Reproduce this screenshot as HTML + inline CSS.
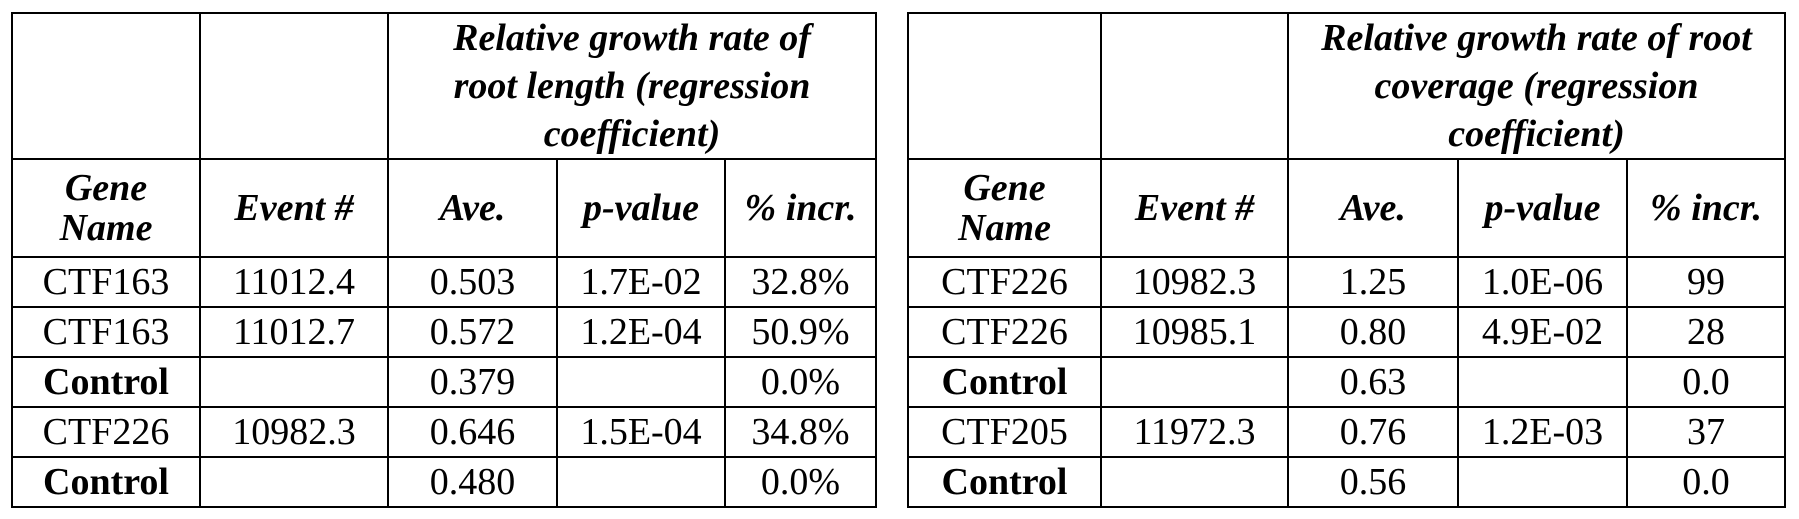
<!DOCTYPE html>
<html><head><style>
body{margin:0;width:1799px;height:519px;background:#fff;overflow:hidden;position:relative;font-family:"Liberation Serif",serif;color:#000}
table{position:absolute;top:12px;border-collapse:collapse;table-layout:fixed}
td{border:2.5px solid #000;text-align:center;padding:0;font-size:38px;line-height:40px;white-space:nowrap;overflow:hidden}
.h{font-weight:bold;font-style:italic;line-height:48px}
.b{font-weight:bold}
tr.r td{height:48px}
</style></head><body>
<table style="left:11px;width:864px">
<colgroup><col style="width:188px"><col style="width:188px"><col style="width:169px"><col style="width:168px"><col style="width:151px"></colgroup>
<tr><td style="height:142px"></td><td></td><td colspan="3" class="h">Relative growth rate of<br>root length (regression<br>coefficient)</td></tr>
<tr><td class="h" style="height:96px;line-height:40px">Gene<br>Name</td><td class="h">Event #</td><td class="h">Ave.</td><td class="h">p-value</td><td class="h">% incr.</td></tr>
<tr class="r"><td>CTF163</td><td>11012.4</td><td>0.503</td><td>1.7E-02</td><td>32.8%</td></tr>
<tr class="r"><td>CTF163</td><td>11012.7</td><td>0.572</td><td>1.2E-04</td><td>50.9%</td></tr>
<tr class="r"><td class="b">Control</td><td></td><td>0.379</td><td></td><td>0.0%</td></tr>
<tr class="r"><td>CTF226</td><td>10982.3</td><td>0.646</td><td>1.5E-04</td><td>34.8%</td></tr>
<tr class="r"><td class="b">Control</td><td></td><td>0.480</td><td></td><td>0.0%</td></tr>
</table>
<table style="left:907px;width:877px">
<colgroup><col style="width:193px"><col style="width:187px"><col style="width:170px"><col style="width:169px"><col style="width:158px"></colgroup>
<tr><td style="height:142px"></td><td></td><td colspan="3" class="h">Relative growth rate of root<br>coverage (regression<br>coefficient)</td></tr>
<tr><td class="h" style="height:96px;line-height:40px">Gene<br>Name</td><td class="h">Event #</td><td class="h">Ave.</td><td class="h">p-value</td><td class="h">% incr.</td></tr>
<tr class="r"><td>CTF226</td><td>10982.3</td><td>1.25</td><td>1.0E-06</td><td>99</td></tr>
<tr class="r"><td>CTF226</td><td>10985.1</td><td>0.80</td><td>4.9E-02</td><td>28</td></tr>
<tr class="r"><td class="b">Control</td><td></td><td>0.63</td><td></td><td>0.0</td></tr>
<tr class="r"><td>CTF205</td><td>11972.3</td><td>0.76</td><td>1.2E-03</td><td>37</td></tr>
<tr class="r"><td class="b">Control</td><td></td><td>0.56</td><td></td><td>0.0</td></tr>
</table>
</body></html>
